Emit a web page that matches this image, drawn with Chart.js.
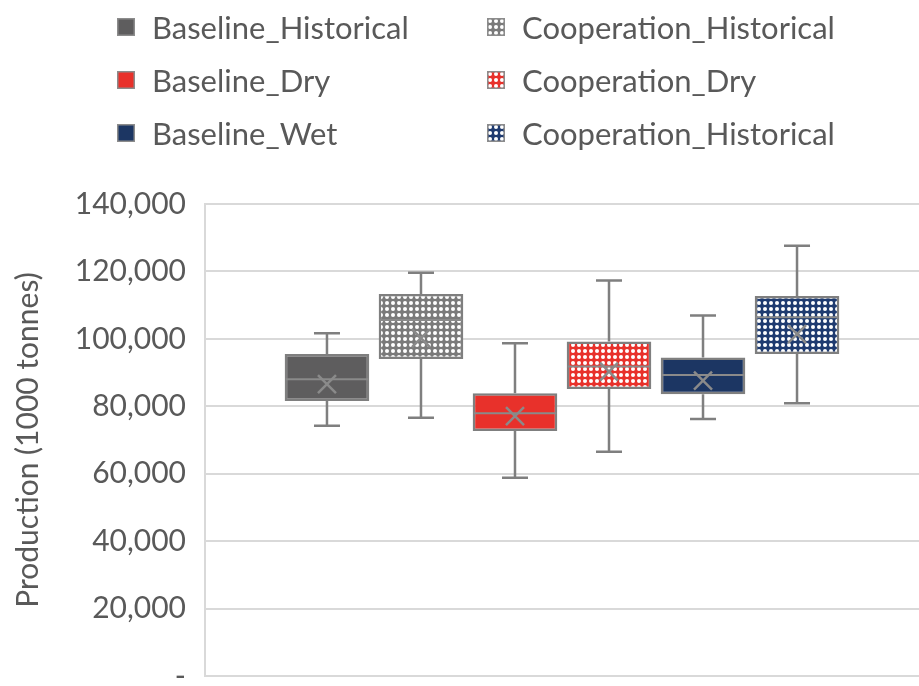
<!DOCTYPE html>
<html>
<head>
<meta charset="utf-8">
<script src="https://cdn.jsdelivr.net/npm/chart.js@4.4.1/dist/chart.umd.min.js"></script>
<style>
  html, body { margin: 0; padding: 0; background: #fff; overflow: hidden; width: 919px; height: 686px; }
  #wrap { position: absolute; left: 0; top: 0; width: 919px; height: 720px; }
  #legend { position: absolute; left: 0; top: 0; width: 919px; height: 160px;
            font-family: Lato, "Open Sans", sans-serif; font-size: 31px; color: #595959; }
  .item { position: absolute; height: 40px; display: flex; align-items: center; white-space: nowrap; }
  .item canvas { width: 18px; height: 18px; margin-right: 17px; }
</style>
</head>
<body>
<div id="wrap"><canvas id="c"></canvas></div>
<div id="legend"></div>
<script>
// Scenario series (one box each)
const seriesNames = [
  'Baseline_Historical', 'Cooperation_Historical',
  'Baseline_Dry', 'Cooperation_Dry',
  'Baseline_Wet', 'Cooperation_Historical'
];
// Five-number summaries and means, production in 1000 tonnes
const minValues    = [74200, 76600, 58800, 66500, 76200, 80900];
const q1Values     = [81600, 94000, 72700, 85100, 83600, 95500];
const medianValues = [88000, 105600, 77900, 91800, 89300, 106400];
const q3Values     = [95500, 113300, 83900, 99200, 94500, 112700];
const maxValues    = [101700, 119600, 98700, 117300, 106900, 127600];
const meanValues   = [86600, 100200, 77100, 90300, 87600, 101400];
// Y axis ticks
const yTicks = [0, 20000, 40000, 60000, 80000, 100000, 120000, 140000];

// Fill style per series: solid colour, or a mesh pattern in that colour
const seriesColors = ['#5e5d5e', '#7a7a7a', '#e8312b', '#e8312b', '#1c3663', '#1f3b70'];
const seriesPatterned = [false, true, false, true, false, true];

function meshPattern(color) {
  const t = document.createElement('canvas');
  t.width = 6; t.height = 6;
  const g = t.getContext('2d');
  g.fillStyle = color;
  g.fillRect(0, 0, 6, 6);
  g.fillStyle = '#ffffff';
  g.beginPath();
  g.arc(3, 3, 2.0, 0, Math.PI * 2);
  g.fill();
  const ctx = document.createElement('canvas').getContext('2d');
  return ctx.createPattern(t, 'repeat');
}

const fills = seriesColors.map((c, i) => seriesPatterned[i] ? meshPattern(c) : c);
const GRAY = '#7f7f7f';

// Whiskers behind the boxes, median line and mean cross on top
const boxExtras = {
  id: 'boxExtras',
  beforeDatasetsDraw(chart) {
    const ctx = chart.ctx, y = chart.scales.y;
    ctx.save();
    ctx.strokeStyle = GRAY;
    ctx.lineWidth = 2.5;
    chart.data.datasets.forEach((ds, i) => {
      const bar = chart.getDatasetMeta(i).data[0];
      const x = bar.x, cap = 13;
      const yMax = y.getPixelForValue(maxValues[i]);
      const yMin = y.getPixelForValue(minValues[i]);
      const yQ3 = y.getPixelForValue(q3Values[i]);
      const yQ1 = y.getPixelForValue(q1Values[i]);
      ctx.beginPath();
      ctx.moveTo(x, yMax); ctx.lineTo(x, yQ3);
      ctx.moveTo(x, yQ1); ctx.lineTo(x, yMin);
      ctx.moveTo(x - cap, yMax); ctx.lineTo(x + cap, yMax);
      ctx.moveTo(x - cap, yMin); ctx.lineTo(x + cap, yMin);
      ctx.stroke();
    });
    ctx.restore();
  },
  afterDatasetsDraw(chart) {
    const ctx = chart.ctx, y = chart.scales.y;
    ctx.save();
    chart.data.datasets.forEach((ds, i) => {
      const bar = chart.getDatasetMeta(i).data[0];
      const x = bar.x, half = bar.width / 2 - 1;
      const yMed = y.getPixelForValue(medianValues[i]);
      ctx.strokeStyle = '#8a8a8a';
      ctx.lineWidth = 2;
      ctx.beginPath();
      ctx.moveTo(x - half, yMed); ctx.lineTo(x + half, yMed);
      ctx.stroke();
      const yMean = y.getPixelForValue(meanValues[i]), s = 9;
      ctx.strokeStyle = '#8a8a8a';
      ctx.lineWidth = 2.5;
      ctx.beginPath();
      ctx.moveTo(x - s, yMean - s); ctx.lineTo(x + s, yMean + s);
      ctx.moveTo(x + s, yMean - s); ctx.lineTo(x - s, yMean + s);
      ctx.stroke();
    });
    ctx.restore();
  }
};

const datasets = seriesNames.map((name, i) => ({
  label: name,
  data: [[q1Values[i], q3Values[i]]],
  backgroundColor: fills[i],
  borderColor: GRAY,
  borderWidth: 2.5,
  borderSkipped: false,
  categoryPercentage: 0.79,
  barPercentage: 0.9
}));

const fontFamily = 'Lato, "Open Sans", sans-serif';

new Chart(document.getElementById('c'), {
  type: 'bar',
  data: { labels: [''], datasets },
  options: {
    responsive: true,
    maintainAspectRatio: false,
    animation: false,
    layout: { padding: { top: 204, right: 0, bottom: 44, left: 0 } },
    plugins: { legend: { display: false }, tooltip: { enabled: false } },
    scales: {
      x: { display: false, offset: true },
      y: {
        min: 0, max: 140000,
        afterBuildTicks(scale) { scale.ticks = yTicks.map(v => ({ value: v })); },
        afterFit(scale) { scale.width = 205; },
        ticks: {
          color: '#595959',
          padding: 19,
          font: { family: fontFamily, size: 30 },
          callback: v => v === 0 ? '-' : v.toLocaleString('en-US')
        },
        grid: { color: '#d9d9d9', lineWidth: 2, drawTicks: false },
        border: { color: '#d9d9d9', width: 2 },
        title: {
          display: true,
          text: 'Production (1000 tonnes)',
          color: '#595959',
          font: { family: fontFamily, size: 30 },
          padding: { top: 10, bottom: 0 }
        }
      }
    }
  },
  plugins: [boxExtras]
});

// Two-column legend
const legend = document.getElementById('legend');
const colLeft = [117, 487], rowMid = [27, 80, 133];
seriesNames.forEach((name, i) => {
  const item = document.createElement('div');
  item.className = 'item';
  item.style.left = colLeft[i % 2] + 'px';
  item.style.top = (rowMid[Math.floor(i / 2)] - 20) + 'px';
  const sw = document.createElement('canvas');
  sw.width = 18; sw.height = 18;
  const g = sw.getContext('2d');
  g.fillStyle = fills[i];
  g.fillRect(0, 0, 18, 18);
  g.strokeStyle = '#8c8c8c';
  g.lineWidth = 1.5;
  g.strokeRect(0.75, 0.75, 16.5, 16.5);
  const txt = document.createElement('span');
  txt.textContent = name;
  item.appendChild(sw);
  item.appendChild(txt);
  legend.appendChild(item);
});
</script>
</body>
</html>
